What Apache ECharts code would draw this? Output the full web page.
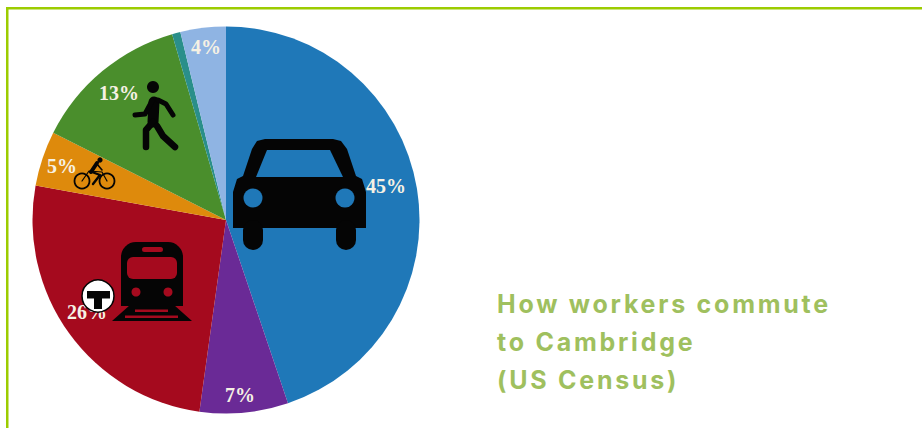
<!DOCTYPE html>
<html>
<head>
<meta charset="utf-8">
<style>
html, body { margin: 0; padding: 0; background: #fff; }
#chart { width: 922px; height: 428px; }
#chart text[fill="#9fc05e"] { letter-spacing: 2.75px; }
</style>
<script src="https://cdn.jsdelivr.net/npm/echarts@6/dist/echarts.min.js"></script>
</head>
<body>
<div id="chart"></div>
<script>
const categories = ['Drive', 'Other', 'Transit', 'Bike', 'Walk', 'Taxi', 'Home'];
const shares = [44.9, 7.4, 25.7, 4.6, 13.1, 0.7, 3.8];
const shareLabels = ['45%', '7%', '26%', '5%', '13%', '', '4%'];
const sliceColors = ['#1f78b8', '#6a2a96', '#a50a1e', '#de8a0c', '#4a8e2c', '#2a8f8a', '#8fb4e3'];
const titleLines = ['How workers commute', 'to Cambridge', '(US Census)'];

const green = '#9fc05e';
const black = '#050505';
const labelSpots = [[386, 186], [240, 395], [87, 312], [62, 166], [119, 93], null, [206, 47]];

function line(points, width) {
    return {
        type: 'polyline',
        z: 100,
        shape: { points },
        style: { fill: null, stroke: black, lineWidth: width, lineCap: 'round', lineJoin: 'round' }
    };
}
function poly(points, fill, z) {
    return { type: 'polygon', z: z || 100, shape: { points }, style: { fill } };
}
function circle(cx, cy, r, style, z) {
    return { type: 'circle', z: z || 101, shape: { cx, cy, r }, style };
}
function box(x, y, width, height, r, fill, z) {
    return { type: 'rect', z: z || 101, shape: { x, y, width, height, r }, style: { fill } };
}

const carIcon = [
    poly([[265, 139], [333, 139], [341, 141], [347, 149], [356, 176], [362, 179], [366, 192], [366, 228], [233, 228], [233, 192], [237, 179], [243, 176], [252, 149], [257, 141]], black),
    box(243, 220, 20, 30, 10, black, 100),
    box(336, 220, 20, 30, 10, black, 100),
    poly([[267, 150], [330, 150], [343, 177], [256, 177]], sliceColors[0], 101),
    circle(253, 198, 9.5, { fill: sliceColors[0] }),
    circle(345, 198, 9.5, { fill: sliceColors[0] })
];

const walkIcon = [
    circle(153, 87, 6, { fill: black }),
    line([[154, 102], [153, 122]], 11),
    line([[158, 100], [166, 104], [173, 115]], 5),
    line([[152, 101], [145, 114], [135, 115]], 5),
    line([[153, 122], [146, 130], [146, 147]], 6.5),
    line([[157, 126], [163, 136], [175, 147]], 6.5)
];

const bikeIcon = [
    circle(82, 181, 7.5, { fill: null, stroke: black, lineWidth: 1.8 }),
    circle(107, 181, 7.5, { fill: null, stroke: black, lineWidth: 1.8 }),
    circle(100, 160, 2.6, { fill: black }),
    line([[97, 163], [91, 172]], 4),
    line([[92, 172], [100, 175], [93, 184]], 2.4),
    line([[97, 164], [102, 170]], 1.6),
    line([[82, 181], [89, 171], [102, 172], [107, 181]], 1.2)
];

const trainIcon = [
    box(121, 242, 62, 64, [15, 15, 0, 0], black, 100),
    poly([[130, 305], [174, 305], [192, 321], [112, 321]], black),
    box(127, 257, 50, 22, 6, sliceColors[2]),
    box(142, 247, 21, 5, 2.5, sliceColors[2]),
    circle(136, 292, 4.5, { fill: sliceColors[2] }),
    circle(168, 292, 4.5, { fill: sliceColors[2] }),
    box(135, 309.5, 33, 2.5, 0, sliceColors[2]),
    box(125, 315.5, 53, 2.5, 0, sliceColors[2]),
    circle(98, 296, 16, { fill: '#fff', stroke: black, lineWidth: 1.5 }, 102),
    box(87, 291, 23, 7.5, 0, black, 103),
    box(94, 298, 8, 11, 0, black, 103)
];

const frame = [
    box(6, 7, 930, 2.5, 0, '#9ccc00', 1),
    box(6, 7, 2.5, 430, 0, '#9ccc00', 1)
];

const titleTexts = titleLines.map((text, i) => ({
    type: 'text',
    left: 497,
    top: 291 + i * 38,
    z: 100,
    style: {
        text,
        fill: green,
        font: 'bold 25px "Inter"'
    }
}));

const option = {
    animation: false,
    backgroundColor: '#fff',
    graphic: { elements: [...frame, ...carIcon, ...walkIcon, ...bikeIcon, ...trainIcon, ...titleTexts] },
    series: [
        {
            type: 'pie',
            center: [226, 220],
            radius: [0, 193.5],
            startAngle: 90,
            clockwise: true,
            silent: true,
            labelLine: { show: false },
            label: {
                show: true,
                position: 'inside',
                color: '#f6f1e4',
                fontFamily: 'Liberation Serif',
                fontWeight: 'bold',
                fontSize: 20,
                formatter: p => shareLabels[p.dataIndex]
            },
            labelLayout: p => {
                const spot = labelSpots[p.dataIndex];
                return spot ? { x: spot[0], y: spot[1], align: 'center', verticalAlign: 'middle' } : {};
            },
            data: categories.map((name, i) => ({
                name,
                value: shares[i],
                itemStyle: { color: sliceColors[i] }
            }))
        }
    ]
};

const myChart = echarts.init(document.getElementById('chart'), null, { renderer: 'svg' });
myChart.setOption(option);
</script>
</body>
</html>
